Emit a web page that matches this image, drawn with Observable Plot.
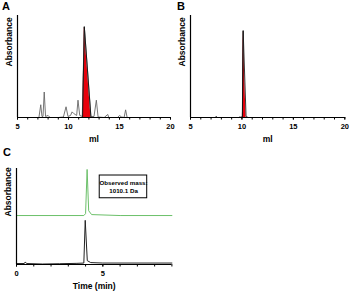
<!DOCTYPE html>
<html><head><meta charset="utf-8">
<script src="https://cdn.jsdelivr.net/npm/d3@7"></script>
<script src="https://cdn.jsdelivr.net/npm/@observablehq/plot@0.6"></script>
<style>
body{margin:0;background:#fff;}
#wrap{position:relative;width:351px;height:298px;background:#fff;font-family:"Liberation Sans",Arial,sans-serif;}
.pl{position:absolute;}
.lt{position:absolute;font-weight:bold;font-size:11px;}
</style></head><body>
<div id="wrap"></div>
<script>
// Panel A trace (ml, relative absorbance)
const aX = [5.0,7.1,7.28,7.4,7.5,7.62,7.75,8.0,8.2,9.0,9.5,9.76,9.95,10.2,10.35,10.5,10.65,10.8,10.93,11.1,11.35,11.55,12.2,12.5,12.73,12.9,13.5,13.85,13.95,14.8,15.0,15.2,15.45,15.6,15.75,17.0,20.0];
const aY = [0,0,0.125,0.01,0.01,0.25,0.01,0.02,0,0,0.005,0.105,0.01,0.02,0.055,0.04,0.03,0.02,0.17,0.02,0.01,0.89,0.01,0.01,0.17,0.005,0,0.03,0,0,0.02,0.005,0,0.075,0,0,0];
const aFillX = [11.38,11.55,12.2];
const aFillY = [0,0.89,0];
// Panel B trace
const bX = [5.0,7.4,7.5,7.6,9.7,9.8,9.95,10.04,10.12,10.4,10.6,20.0];
const bY = [0,0,0.012,0,0,0.006,0,0.02,0.85,0.01,0,0];
const bFillX = [10.05,10.12,10.4];
const bFillY = [0,0.85,0.01];
// Panel C traces (min, relative absorbance)
const cGreenX = [0,3.9,4.0,4.09,4.18,4.35,6.0,9.0];
const cGreenY = [0.51,0.51,0.53,0.99,0.56,0.52,0.51,0.51];
const cBlackX = [0,0.45,0.5,0.6,1.5,2.5,3.5,3.9,3.98,4.1,4.3,5.0,9.0];
const cBlackY = [0.01,0.01,0.025,0.01,0.005,0.008,0.012,0.015,0.46,0.04,0.02,0.015,0.015];
const xTicksAB = [5,10,15,20];
const xTicksC = [0,5];
const note = ["Observed mass:","1010.1 Da"];

const pts = (xs, ys) => xs.map((x,i)=>({x, y: ys[i]}));
const F = '"Liberation Sans",Arial,sans-serif';
const wrap = document.getElementById("wrap");

function chromPlot({w,h,ml,mr,mt,mb,xd,yd,minor,major,label,traces,fills,extra=[]}) {
  return Plot.plot({
    width:w, height:h, marginLeft:ml, marginRight:mr, marginTop:mt, marginBottom:mb,
    style:{fontFamily:F, fontWeight:"bold", fontSize:"7.5px", background:"transparent", overflow:"visible"},
    x:{domain:xd}, y:{domain:yd},
    marks:[
      ...fills.map(f=>Plot.areaY(f.data,{x:"x",y:"y",fill:f.color})),
      ...traces.map(t=>Plot.line(t.data,{x:"x",y:"y",stroke:t.color,strokeWidth:t.sw||0.9})),
      Plot.axisX({ticks:minor, tickFormat:()=>"", tickSize:2.5, label:null}),
      Plot.axisX({ticks:major, tickSize:2.5, tickPadding:3.5, label:null, fontSize:7.5}),
      Plot.axisY({ticks:[], label:null}),
      Plot.ruleY([yd[0]],{stroke:"#000",strokeWidth:1.2}),
      Plot.ruleX([xd[0]],{stroke:"#000",strokeWidth:1.2}),
      Plot.text([label],{frameAnchor:"bottom",dy:24,text:d=>d,fontSize:8.5,fontWeight:"bold"}),
      Plot.text(["Absorbance"],{frameAnchor:"left",dx:-8,rotate:-90,text:d=>d,fontSize:8.5,fontWeight:"bold"}),
      ...extra
    ]
  });
}

function place(el, left, top){ el.classList.add("pl"); el.style.left=left+"px"; el.style.top=top+"px"; wrap.appendChild(el); }

const A = chromPlot({w:175,h:145,ml:17,mr:5,mt:15,mb:28,xd:[5,20],yd:[0,1],
  minor:d3.range(5,21,1), major:xTicksAB, label:"ml",
  fills:[{data:pts(aFillX,aFillY),color:"#e8000b"}],
  traces:[{data:pts(aX,aY),color:"#666"},{data:pts(aFillX,aFillY),color:"#111"}]});
place(A,0,0);

const B = chromPlot({w:176,h:145,ml:15,mr:6.7,mt:15,mb:28,xd:[5,20],yd:[0,1],
  minor:d3.range(5,21,1), major:xTicksAB, label:"ml",
  fills:[{data:pts(bFillX,bFillY),color:"#e8000b"}],
  traces:[{data:pts(bX,bY),color:"#222"},{data:pts(bFillX.slice(0,2),bFillY.slice(0,2)),color:"#111"}]});
place(B,175,0);

const C = chromPlot({w:180,h:153,ml:16,mr:8.6,mt:23,mb:34,xd:[0,9],yd:[0,1],
  minor:d3.range(0,10,1), major:xTicksC, label:"Time (min)",
  fills:[],
  traces:[{data:pts(cGreenX,cGreenY),color:"#6cc06a",sw:1},{data:pts(cBlackX,cBlackY),color:"#222",sw:1}],
  extra:[
    Plot.rect([{x1:4.82,x2:7.57,y1:0.69,y2:0.927}],{x1:"x1",x2:"x2",y1:"y1",y2:"y2",fill:"#fff",stroke:"#000",strokeWidth:1}),
    Plot.text([note.join("\n")],{x:6.2,y:0.81,text:d=>d,fontSize:6.2,fontWeight:"bold",lineHeight:1.3})
  ]});
place(C,0,145);

[["A",2,0],["B",177,0],["C",3,146]].forEach(([t,l,tp])=>{
  const d=document.createElement("div"); d.className="lt"; d.textContent=t; d.style.left=l+"px"; d.style.top=tp+"px"; wrap.appendChild(d);
});
</script>
</body></html>
